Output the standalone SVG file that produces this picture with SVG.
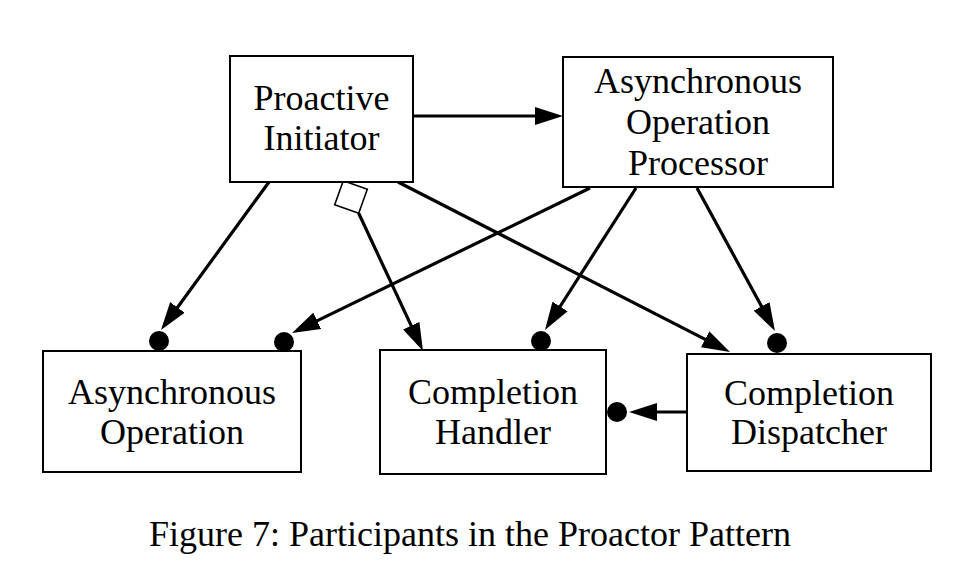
<svg xmlns="http://www.w3.org/2000/svg" width="956" height="562" viewBox="0 0 956 562">
<style>
.box{fill:#fff;stroke:#000;stroke-width:2}
.lbl{font-family:"Liberation Serif","Times New Roman",serif;font-size:36px;fill:#000;text-anchor:middle}
.edge{fill:none;stroke:#000;stroke-width:3.2;marker-end:url(#arrow)}
.dot{fill:#000}
.dia{fill:#fff;stroke:#000;stroke-width:1.6}
</style>
<defs>
<marker id="arrow" viewBox="0 0 28 18" refX="22" refY="9" markerWidth="28" markerHeight="18" markerUnits="userSpaceOnUse" orient="auto">
<path d="M0,0 L28,9 L0,18 z" fill="#000"/>
</marker>
</defs>
<rect width="956" height="562" fill="#fff"/>
<g id="connectors">
<line class="edge" x1="413" y1="116" x2="557" y2="116"/>
<line class="edge" x1="269" y1="182" x2="164.5" y2="325.2"/>
<circle class="dot" cx="159" cy="341" r="10"/>
<line class="edge" x1="590" y1="188" x2="297.4" y2="330.4"/>
<circle class="dot" cx="284" cy="342" r="10"/>
<line class="edge" x1="358.7" y1="213.3" x2="420.5" y2="345.6"/>
<polygon class="dia" points="343.3,180.7 367.3,189.3 358.7,213.3 334.7,204.7"/>
<line class="edge" x1="398" y1="182" x2="724.7" y2="349.3"/>
<line class="edge" x1="636" y1="188" x2="548.2" y2="325"/>
<circle class="dot" cx="541" cy="341" r="10"/>
<line class="edge" x1="697" y1="188" x2="772.1" y2="325.7"/>
<circle class="dot" cx="777" cy="343" r="10"/>
<line class="edge" x1="687" y1="412" x2="635" y2="412"/>
<circle class="dot" cx="617" cy="412" r="10"/>
</g>
<g id="proactive-initiator">
<rect class="box" x="230" y="56" width="183" height="126"/>
<text class="lbl" x="321.5" y="110">Proactive</text>
<text class="lbl" x="321.5" y="150">Initiator</text>
</g>
<g id="async-operation-processor">
<rect class="box" x="563" y="57" width="270" height="130"/>
<text class="lbl" x="698" y="93">Asynchronous</text>
<text class="lbl" x="698" y="134">Operation</text>
<text class="lbl" x="698" y="175">Processor</text>
</g>
<g id="async-operation">
<rect class="box" x="43" y="351" width="258" height="121"/>
<text class="lbl" x="172" y="404">Asynchronous</text>
<text class="lbl" x="172" y="444">Operation</text>
</g>
<g id="completion-handler">
<rect class="box" x="380" y="350" width="226" height="124"/>
<text class="lbl" x="493" y="404">Completion</text>
<text class="lbl" x="493" y="444">Handler</text>
</g>
<g id="completion-dispatcher">
<rect class="box" x="687" y="354" width="244" height="117"/>
<text class="lbl" x="809" y="405">Completion</text>
<text class="lbl" x="809" y="444">Dispatcher</text>
</g>
<text class="lbl" x="470" y="546">Figure 7: Participants in the Proactor Pattern</text>
</svg>
